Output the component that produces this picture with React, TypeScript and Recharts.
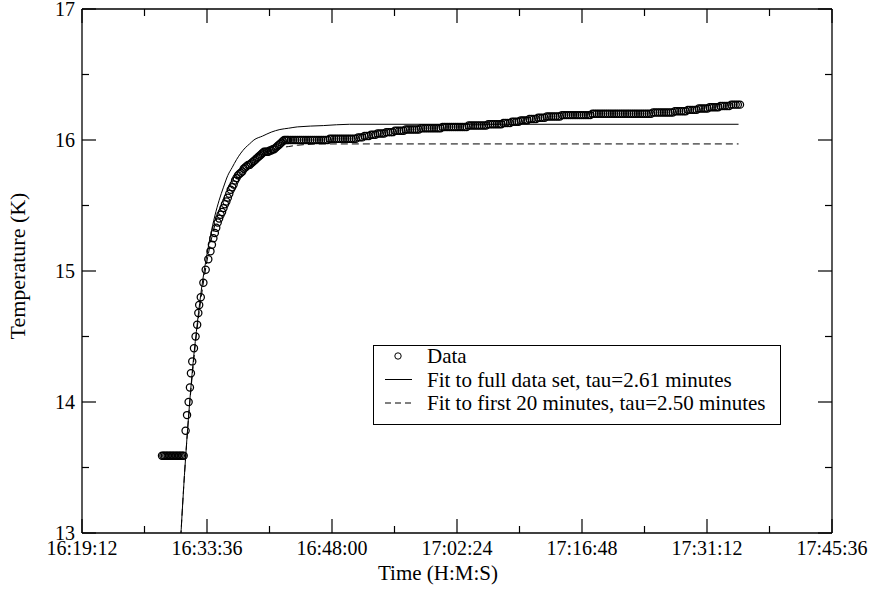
import React from 'react';
import { ComposedChart, Line, Scatter, XAxis, YAxis, Legend } from 'recharts';

// time values are seconds since midnight
const xTicks = [
  58752, 59184, 59616, 60048, 60480, 60912, 61344, 61776, 62208, 62640, 63072, 63504, 63936,
];
const yTicks = [13, 13.5, 14, 14.5, 15, 15.5, 16, 16.5, 17];

const dataTime = [
  // baseline before the step
  59305, 59315, 59325, 59335, 59345, 59355, 59365, 59375, 59385, 59395, 59405, 59415, 59425, 59435, 59445, 59455,
  // rise
  59468, 59478, 59489, 59498, 59505, 59514, 59526, 59537, 59548, 59556, 59562, 59573, 59591, 59607, 59625,
  // knee
  59640, 59650, 59660, 59670, 59680, 59690, 59700, 59710, 59720, 59730,
  59740, 59750, 59760, 59770, 59780, 59790, 59800, 59810, 59820, 59830,
  59840, 59850, 59860, 59870, 59880, 59890, 59900, 59910, 59920, 59930,
  59940, 59950, 59960, 59970, 59980, 59990, 60000, 60010, 60020, 60030,
  60040, 60050, 60060, 60070, 60080, 60090, 60100, 60110, 60120, 60130,
  60140, 60150, 60160, 60170,
  // plateau
  60180, 60195, 60210, 60225, 60240, 60255, 60270, 60285, 60300, 60315,
  60330, 60345, 60360, 60375, 60390, 60405, 60420, 60435, 60450, 60465,
  60480, 60495, 60510, 60525, 60540, 60555, 60570, 60585, 60600, 60615,
  60630, 60645, 60660, 60675, 60690, 60705, 60720, 60735, 60750, 60765,
  60780, 60795, 60810, 60825, 60840, 60855, 60870, 60885, 60900, 60915,
  60930, 60945, 60960, 60975, 60990, 61005, 61020, 61035, 61050, 61065,
  61080, 61095, 61110, 61125, 61140, 61155, 61170, 61185, 61200, 61215,
  61230, 61245, 61260, 61275, 61290, 61305, 61320, 61335, 61350, 61365,
  61380, 61395, 61410, 61425, 61440, 61455, 61470, 61485, 61500, 61515,
  61530, 61545, 61560, 61575, 61590, 61605, 61620, 61635, 61650, 61665,
  61680, 61695, 61710, 61725, 61740, 61755, 61770, 61785, 61800, 61815,
  61830, 61845, 61860, 61875, 61890, 61905, 61920, 61935, 61950, 61965,
  61980, 61995, 62010, 62025, 62040, 62055, 62070, 62085, 62100, 62115,
  62130, 62145, 62160, 62175, 62190, 62205, 62220, 62235, 62250, 62265,
  62280, 62295, 62310, 62325, 62340, 62355, 62370, 62385, 62400, 62415,
  62430, 62445, 62460, 62475, 62490, 62505, 62520, 62535, 62550, 62565,
  62580, 62595, 62610, 62625, 62640, 62655, 62670, 62685, 62700, 62715,
  62730, 62745, 62760, 62775, 62790, 62805, 62820, 62835, 62850, 62865,
  62880, 62895, 62910, 62925, 62940, 62955, 62970, 62985, 63000, 63015,
  63030, 63045, 63060, 63075, 63090, 63105, 63120, 63135, 63150, 63165,
  63180, 63195, 63210, 63225, 63240, 63255, 63270, 63285, 63300,
];
const dataTemp = [
  13.59, 13.59, 13.59, 13.59, 13.59, 13.59, 13.59, 13.59, 13.59, 13.59, 13.59, 13.59, 13.59, 13.59, 13.59, 13.59,
  13.78, 13.9, 14.0, 14.11, 14.22, 14.31, 14.41, 14.5, 14.59, 14.68, 14.74, 14.8, 14.91, 15.01, 15.09,
  15.15, 15.2, 15.25, 15.29, 15.33, 15.37, 15.4, 15.43, 15.45, 15.48,
  15.51, 15.53, 15.56, 15.59, 15.62, 15.64, 15.66, 15.69, 15.71, 15.73,
  15.74, 15.75, 15.76, 15.78, 15.79, 15.8, 15.81, 15.81, 15.82, 15.83,
  15.84, 15.85, 15.86, 15.87, 15.88, 15.89, 15.9, 15.91, 15.91, 15.91,
  15.91, 15.92, 15.92, 15.93, 15.93, 15.94, 15.95, 15.96, 15.97, 15.98,
  15.99, 16.0, 16.0, 16.0,
  16.0, 16.0, 16.0, 16.0, 16.0, 16.0, 16.0, 16.0, 16.0, 16.0,
  16.0, 16.0, 16.0, 16.0, 16.0, 16.0, 16.0, 16.0, 16.0, 16.01,
  16.01, 16.01, 16.01, 16.01, 16.01, 16.01, 16.01, 16.01, 16.01, 16.01,
  16.01, 16.01, 16.02, 16.02, 16.02, 16.03, 16.03, 16.03, 16.04, 16.04,
  16.04, 16.05, 16.05, 16.05, 16.05, 16.06, 16.06, 16.06, 16.06, 16.07,
  16.07, 16.07, 16.07, 16.07, 16.08, 16.08, 16.08, 16.08, 16.08, 16.08,
  16.08, 16.09, 16.09, 16.09, 16.09, 16.09, 16.09, 16.09, 16.09, 16.09,
  16.09, 16.1, 16.1, 16.1, 16.1, 16.1, 16.1, 16.1, 16.1, 16.1,
  16.1, 16.1, 16.1, 16.11, 16.11, 16.11, 16.11, 16.11, 16.11, 16.11,
  16.11, 16.11, 16.12, 16.12, 16.12, 16.12, 16.12, 16.12, 16.12, 16.13,
  16.13, 16.13, 16.13, 16.14, 16.14, 16.14, 16.14, 16.15, 16.15, 16.15,
  16.15, 16.16, 16.16, 16.16, 16.16, 16.17, 16.17, 16.17, 16.17, 16.18,
  16.18, 16.18, 16.18, 16.18, 16.18, 16.18, 16.19, 16.19, 16.19, 16.19,
  16.19, 16.19, 16.19, 16.19, 16.19, 16.19, 16.19, 16.19, 16.19, 16.19,
  16.2, 16.2, 16.2, 16.2, 16.2, 16.2, 16.2, 16.2, 16.2, 16.2,
  16.2, 16.2, 16.2, 16.2, 16.2, 16.2, 16.2, 16.2, 16.2, 16.2,
  16.2, 16.2, 16.2, 16.2, 16.2, 16.2, 16.2, 16.2, 16.21, 16.21,
  16.21, 16.21, 16.21, 16.21, 16.21, 16.21, 16.21, 16.21, 16.22, 16.22,
  16.22, 16.22, 16.22, 16.22, 16.23, 16.23, 16.23, 16.23, 16.23, 16.24,
  16.24, 16.24, 16.24, 16.24, 16.25, 16.25, 16.25, 16.25, 16.25, 16.26,
  16.26, 16.26, 16.26, 16.26, 16.27, 16.27, 16.27, 16.27, 16.27,
];

const fitTime = [
  59430, 59460, 59490, 59520, 59550, 59580, 59610, 59640, 59670, 59700, 59730, 59760, 59790,
  59820, 59850, 59880, 59910, 59940, 60000, 60060, 60120, 60180, 60240, 60420, 60600, 63290,
];
const fullFitTemp = [
  12.88, 13.44, 13.91, 14.3, 14.61, 14.88, 15.09, 15.27, 15.42, 15.54, 15.64, 15.73, 15.79,
  15.85, 15.9, 15.94, 15.97, 16.0, 16.03, 16.06, 16.08, 16.09, 16.1, 16.11, 16.12, 16.12,
];
const firstFitTemp = [
  12.88, 13.44, 13.9, 14.27, 14.58, 14.83, 15.04, 15.21, 15.35, 15.46, 15.55, 15.63, 15.69,
  15.74, 15.78, 15.82, 15.84, 15.87, 15.9, 15.92, 15.94, 15.95, 15.96, 15.97, 15.97, 15.97,
];

const measured = dataTime.map((t, i) => ({ t, T: dataTemp[i] }));
const fullFit = fitTime.map((t, i) => ({ t, T: fullFitTemp[i] }));
const firstFit = fitTime.map((t, i) => ({ t, T: firstFitTemp[i] }));

const FONT = 'Liberation Serif, DejaVu Serif, serif';

const pad = (n: number) => String(n).padStart(2, '0');
const formatTime = (s: number) =>
  `${Math.floor(s / 3600)}:${pad(Math.floor((s % 3600) / 60))}:${pad(s % 60)}`;

const isMajorX = (v: number) => (v - xTicks[0]) % 864 === 0;

const BottomTick = (props: any) => {
  const { x, y, payload } = props;
  const major = isMajorX(payload.value);
  return (
    <g>
      <line x1={x} x2={x} y1={y} y2={y - (major ? 14 : 7)} stroke="#000" strokeWidth={1.2} />
      {major && (
        <text x={x} y={y + 22} textAnchor="middle" style={{ fontFamily: FONT, fontSize: 20 }} fill="#000">
          {formatTime(payload.value)}
        </text>
      )}
    </g>
  );
};

const TopTick = (props: any) => {
  const { x, y, payload } = props;
  const major = isMajorX(payload.value);
  return <line x1={x} x2={x} y1={y} y2={y + (major ? 14 : 7)} stroke="#000" strokeWidth={1.2} />;
};

const LeftTick = (props: any) => {
  const { x, y, payload } = props;
  const major = Number.isInteger(payload.value);
  return (
    <g>
      <line x1={x} x2={x + (major ? 14 : 7)} y1={y} y2={y} stroke="#000" strokeWidth={1.2} />
      {major && (
        <text x={x - 7} y={y + 7} textAnchor="end" style={{ fontFamily: FONT, fontSize: 20 }} fill="#000">
          {payload.value}
        </text>
      )}
    </g>
  );
};

const RightTick = (props: any) => {
  const { x, y, payload } = props;
  const major = Number.isInteger(payload.value);
  return <line x1={x} x2={x - (major ? 14 : 7)} y1={y} y2={y} stroke="#000" strokeWidth={1.2} />;
};

const XTitle = () => (
  <text x={438} y={580} textAnchor="middle" style={{ fontFamily: FONT, fontSize: 21 }} fill="#000">
    Time (H:M:S)
  </text>
);

const YTitle = () => (
  <text
    x={25}
    y={266}
    transform="rotate(-90 25 266)"
    textAnchor="middle"
    style={{ fontFamily: FONT, fontSize: 22 }}
    fill="#000"
  >
    Temperature (K)
  </text>
);

const legendRows = [
  { kind: 'circle', label: 'Data' },
  { kind: 'solid', label: 'Fit to full data set, tau=2.61 minutes' },
  { kind: 'dashed', label: 'Fit to first 20 minutes, tau=2.50 minutes' },
];

const renderLegend = () => (
  <svg width={408} height={80} style={{ display: 'block' }}>
    <rect x={0.5} y={0.5} width={407} height={79} fill="#fff" stroke="#000" strokeWidth={1} />
    {legendRows.map((row, i) => {
      const cy = 11 + i * 23.5;
      return (
        <g key={row.label}>
          {row.kind === 'circle' && <circle cx={25} cy={cy} r={3.2} fill="none" stroke="#000" />}
          {row.kind === 'solid' && <line x1={12} x2={39} y1={cy} y2={cy} stroke="#000" />}
          {row.kind === 'dashed' && (
            <line x1={12} x2={39} y1={cy} y2={cy} stroke="#000" strokeDasharray="6 4" />
          )}
          <text x={54} y={cy + 7} style={{ fontFamily: FONT, fontSize: 21 }} fill="#000">
            {row.label}
          </text>
        </g>
      );
    })}
  </svg>
);

const Circle = (props: any) => (
  <circle cx={props.cx} cy={props.cy} r={3.6} fill="none" stroke="#000" strokeWidth={1.25} />
);

export default function App() {
  return (
    <div style={{ position: 'absolute', left: 0, top: 0, background: '#fff' }}>
      <ComposedChart
        width={875}
        height={609}
        margin={{ top: 8, right: 42, bottom: 46, left: 8 }}
      >
        <XAxis
          dataKey="t"
          type="number"
          domain={[58752, 63936]}
          allowDataOverflow
          ticks={xTicks}
          interval={0}
          height={30}
          tickSize={0}
          tickMargin={0}
          tickLine={false}
          axisLine={{ stroke: '#000', strokeWidth: 1.3 }}
          tick={(p: any) => <BottomTick {...p} />}
          label={<XTitle />}
        />
        <XAxis
          xAxisId="top"
          orientation="top"
          dataKey="t"
          type="number"
          domain={[58752, 63936]}
          allowDataOverflow
          ticks={xTicks}
          interval={0}
          height={1}
          tickSize={0}
          tickMargin={0}
          tickLine={false}
          axisLine={{ stroke: '#000', strokeWidth: 1.3 }}
          tick={(p: any) => <TopTick {...p} />}
        />
        <YAxis
          dataKey="T"
          type="number"
          domain={[13, 17]}
          allowDataOverflow
          ticks={yTicks}
          interval={0}
          width={74}
          tickSize={0}
          tickMargin={0}
          tickLine={false}
          axisLine={{ stroke: '#000', strokeWidth: 1.3 }}
          tick={(p: any) => <LeftTick {...p} />}
          label={<YTitle />}
        />
        <YAxis
          yAxisId="right"
          orientation="right"
          dataKey="T"
          type="number"
          domain={[13, 17]}
          allowDataOverflow
          ticks={yTicks}
          interval={0}
          width={1}
          tickSize={0}
          tickMargin={0}
          tickLine={false}
          axisLine={{ stroke: '#000', strokeWidth: 1.3 }}
          tick={(p: any) => <RightTick {...p} />}
        />
        <Line
          data={fullFit}
          dataKey="T"
          type="monotone"
          stroke="#000"
          strokeWidth={1}
          dot={false}
          isAnimationActive={false}
        />
        <Line
          data={firstFit}
          dataKey="T"
          type="monotone"
          stroke="#000"
          strokeWidth={1}
          strokeDasharray="7 4"
          dot={false}
          isAnimationActive={false}
        />
        <Scatter data={measured} dataKey="T" shape={<Circle />} isAnimationActive={false} />
        <Legend
          layout="vertical"
          align="center"
          verticalAlign="middle"
          wrapperStyle={{ left: 373, top: 345, width: 408, height: 80 }}
          content={renderLegend}
        />
      </ComposedChart>
    </div>
  );
}
